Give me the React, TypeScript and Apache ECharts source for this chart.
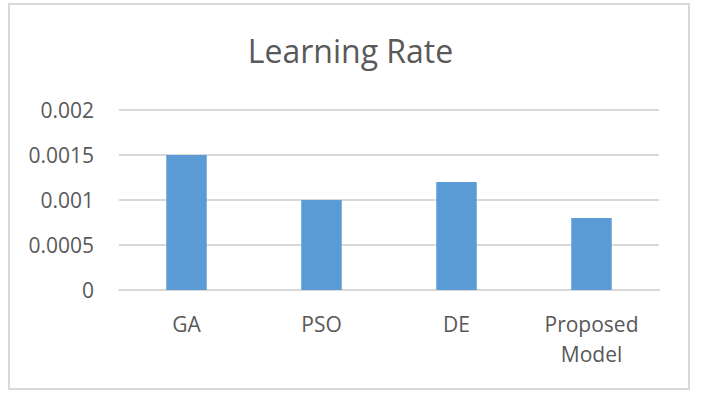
import React, { useEffect, useRef } from "react";
import * as echarts from "echarts";

const categories = ["GA", "PSO", "DE", "Proposed\nModel"];
const learningRate = [0.0015, 0.001, 0.0012, 0.0008];
const yTicks = [0, 0.0005, 0.001, 0.0015, 0.002];

export default function App() {
  const ref = useRef<HTMLDivElement>(null);
  useEffect(() => {
    if (!ref.current) return;
    const chart = echarts.init(ref.current, null, { renderer: "svg" });
    const font = "'Open Sans', 'Noto Sans', sans-serif";
    chart.setOption({
      animation: false,
      backgroundColor: "#ffffff",
      title: {
        text: "Learning Rate",
        left: "center",
        top: 29,
        textStyle: { fontFamily: font, fontSize: 32, fontWeight: "normal", color: "#595959" },
      },
      graphic: [
        {
          type: "rect",
          shape: { x: 9, y: 4, width: 680, height: 385 },
          style: { fill: "none", stroke: "#d9d9d9", lineWidth: 2 },
          silent: true,
        },
      ],
      grid: { left: 119, right: 42, top: 110, bottom: 116 },
      xAxis: {
        type: "category",
        data: categories,
        axisLine: { show: true, lineStyle: { color: "#d9d9d9", width: 2 } },
        axisTick: { show: false },
        axisLabel: {
          fontFamily: font,
          fontSize: 21,
          color: "#595959",
          margin: 19,
          lineHeight: 30,
          verticalAlign: "top",
        },
      },
      yAxis: {
        type: "value",
        min: yTicks[0],
        max: yTicks[yTicks.length - 1],
        interval: 0.0005,
        axisLine: { show: false },
        axisTick: { show: false },
        splitLine: { lineStyle: { color: "#d9d9d9", width: 2 } },
        axisLabel: {
          fontFamily: font,
          fontSize: 21,
          color: "#595959",
          margin: 25,
          formatter: (v: number) => String(parseFloat(v.toFixed(6))),
        },
      },
      series: [
        {
          type: "bar",
          data: learningRate,
          barWidth: "30%",
          itemStyle: { color: "#5b9bd5" },
        },
      ],
    });
    return () => chart.dispose();
  }, []);
  return (
    <div
      ref={ref}
      style={{ position: "fixed", left: 0, top: 0, width: 701, height: 406 }}
    />
  );
}
